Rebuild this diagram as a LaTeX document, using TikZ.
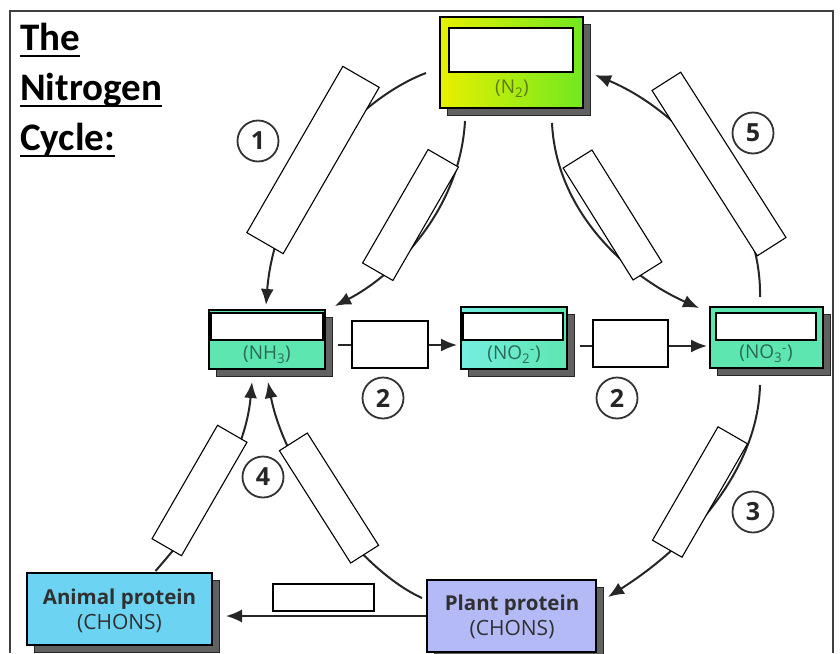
\documentclass[tikz,border=0pt]{standalone}
\usepackage{fontspec}
\setmainfont{Carlito}
\newfontfamily\gill{Open Sans}
\usetikzlibrary{shadows,calc,arrows.meta}
\definecolor{ntwoL}{HTML}{E8F000}
\definecolor{ntwoR}{HTML}{70E820}
\definecolor{ntwotxt}{HTML}{5E7A10}
\definecolor{aqua}{HTML}{5EE6B0}
\definecolor{aquaL}{HTML}{74EEE0}
\definecolor{aquatxt}{HTML}{2A6A58}
\definecolor{animfill}{HTML}{6CD4F2}
\definecolor{plantfill}{HTML}{B4BAF6}
\definecolor{boxtxt}{HTML}{303030}
\begin{document}
\begin{tikzpicture}[x=1pt,y=-1pt,
  chembox/.style={draw=black, line width=2pt, inner sep=0pt,
    drop shadow={shadow xshift=7pt,shadow yshift=-7pt,opacity=1,fill=black!62,draw=black!85,line width=0.8pt}},
  blankbox/.style={draw=black, line width=1.2pt, fill=white, inner sep=0pt},
  tiltbox/.style={draw=black, line width=1.1pt, fill=white, inner sep=0pt},
  flow/.style={draw=black!85, line width=2pt, -{Latex[length=16pt,width=13pt]}},
  hflow/.style={draw=black!85, line width=1.8pt, -{Latex[length=16pt,width=13pt]}},
  stepnum/.style={circle, draw=black!80, line width=1.8pt, fill=white, minimum size=41pt, inner sep=0pt, text=black!85, font=\gill\bfseries\fontsize{25}{25}\selectfont},
  formula/.style={inner sep=0pt, text=aquatxt, font=\gill\fontsize{19}{19}\selectfont},
  titletext/.style={inner sep=0pt, anchor=base west, font=\bfseries\fontsize{39}{39}\selectfont},
  protbold/.style={inner sep=0pt, text=boxtxt, font=\gill\bfseries\fontsize{20.5}{20.5}\selectfont},
  protreg/.style={inner sep=0pt, text=boxtxt, font=\gill\fontsize{21}{21}\selectfont}
]
\useasboundingbox (0,0) rectangle (840,653);
\fill[white] (0,0) rectangle (840,653);
% frame
\draw[line width=1.3pt, black!75] (10,653) -- (10,11) -- (833,11) -- (833,653);

% title
\node[titletext] (t1) at (20,50) {The};
\node[titletext] (t2) at (20,100) {Nitrogen};
\node[titletext] (t3) at (20,150) {Cycle:};
\foreach \t in {t1,t2,t3}
  \draw[line width=2.2pt] ($(\t.base west)+(0,6)$) -- ($(\t.base east)+(0,6)$);

% main boxes
\node[chembox, left color=ntwoL, right color=ntwoR, minimum width=143pt, minimum height=91pt] (n2) at (511.5,62.5) {};
\node[chembox, fill=aqua, minimum width=116pt, minimum height=59pt] (nh3) at (267,339.5) {};
\node[chembox, left color=aquaL, right color=aqua, minimum width=106pt, minimum height=62pt] (no2) at (514,338) {};
\node[chembox, fill=aqua, minimum width=113pt, minimum height=61pt] (no3) at (766.5,337.5) {};
\node[chembox, fill=animfill, minimum width=185pt, minimum height=72pt] (animal) at (119.5,609) {};
\node[chembox, fill=plantfill, minimum width=169pt, minimum height=72pt] (plant) at (511.5,616) {};

% blanks inside boxes
\node[blankbox, minimum width=124pt, minimum height=44pt] (n2blank) at (511,50) {};
\node[blankbox, minimum width=112pt, minimum height=27pt] (nh3blank) at (267,326.5) {};
\node[blankbox, minimum width=100pt, minimum height=27pt] (no2blank) at (513,326.5) {};
\node[blankbox, minimum width=100pt, minimum height=27pt] (no3blank) at (766,326.5) {};

% formulas
\node[formula, text=ntwotxt] (n2t) at (512,89) {(N\textsubscript{2})};
\node[formula] (nh3t) at (267,354.5) {(NH\textsubscript{3})};
\node[formula] (no2t) at (514,354.5) {(NO\textsubscript{2}\textsuperscript{-})};
\node[formula] (no3t) at (766,353.5) {(NO\textsubscript{3}\textsuperscript{-})};

% protein texts
\node[protbold] (animt1) at (119.5,599) {Animal protein};
\node[protreg] (animt2) at (119.5,624) {(CHONS)};
\node[protbold] (plantt1) at (512,605) {Plant protein};
\node[protreg] (plantt2) at (512,630) {(CHONS)};

% curved connectors
\draw[flow] ($(n2.west)+(-13,10.5)$) .. controls (355,100) and (275,190) .. ($(nh3.north)+(-1,-4)$);
\draw[flow] ($(n2.south)+(-46.5,12)$) .. controls (460,210) and (395,275) .. ($(nh3.north east)+(9,-3)$);
\draw[flow] ($(n2.south)+(40.5,14)$) .. controls (556,210) and (625,275) .. ($(no3.north west)+(-10,2)$);
\draw[flow] ($(no3.north)+(-6.5,-9)$) .. controls (762,200) and (680,110) .. ($(n2.east)+(11,12.5)$);
\draw[flow] ($(no3.south)+(-6.5,16)$) .. controls (758,470) and (690,545) .. ($(plant.east)+(11,-19)$);
\draw[flow] ($(animal.north)+(36,-1)$) .. controls (200,520) and (245,460) .. ($(nh3.south)+(-15,12)$);
\draw[flow] ($(plant.west)+(-4,-18)$) .. controls (360,570) and (285,470) .. ($(nh3.south)+(1,12)$);

% straight connectors
\draw[hflow] ($(nh3.east)+(12,5.5)$) -- ($(no2.west)+(-3,7)$);
\draw[hflow] ($(no2.east)+(12,8)$) -- ($(no3.west)+(-2,8.5)$);
\draw[hflow] (plant.west) -- ($(animal.east)+(13,7)$);

% blank label boxes on straight connectors
\node[blankbox, minimum width=76pt, minimum height=47pt] (b1) at (390,344.5) {};
\node[blankbox, minimum width=75pt, minimum height=47pt] (b2) at (630.5,343.5) {};
\node[blankbox, minimum width=101pt, minimum height=27pt] (b3) at (323.5,597.5) {};

% tilted blank boxes
\node[tiltbox, minimum width=192pt, minimum height=42pt, rotate=60] (r1) at (313,160) {};
\node[tiltbox, minimum width=131pt, minimum height=35pt, rotate=60] (r2) at (410.5,215) {};
\node[tiltbox, minimum width=132pt, minimum height=34pt, rotate=-58] (r3i) at (612.5,215) {};
\node[tiltbox, minimum width=196pt, minimum height=34pt, rotate=-57.5] (r5) at (719,164) {};
\node[tiltbox, minimum width=131pt, minimum height=34pt, rotate=60] (r3) at (700,492) {};
\node[tiltbox, minimum width=131pt, minimum height=34pt, rotate=60] (r4a) at (199.5,490.5) {};
\node[tiltbox, minimum width=133pt, minimum height=33pt, rotate=-57.6] (r4b) at (329,498) {};

% step numbers
\node[stepnum] (c1) at (258,141) {1};
\node[stepnum] (c5) at (753,133) {5};
\node[stepnum] (c2a) at (383,398) {2};
\node[stepnum] (c2b) at (617,398) {2};
\node[stepnum] (c3) at (753,512) {3};
\node[stepnum] (c4) at (263,477) {4};
\end{tikzpicture}
\end{document}
